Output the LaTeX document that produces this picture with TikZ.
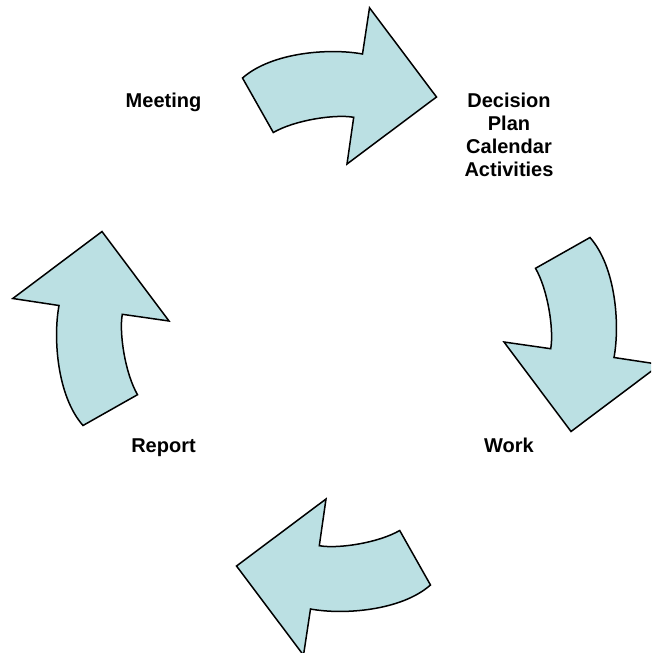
\documentclass[tikz,border=0pt]{standalone}
\usepackage{fontspec}
\setmainfont{Liberation Sans}
\usetikzlibrary{positioning}
\definecolor{cyclefill}{RGB}{187,224,227}
\tikzset{
  cyclearrow/.style={draw=black, line width=1.5pt, fill=cyclefill},
  stage/.style={font=\fontsize{20}{23}\selectfont\bfseries, align=center, inner sep=0pt, anchor=base},
}

\begin{document}
\begin{tikzpicture}[x=1pt, y=-1pt]
  \useasboundingbox (0,0) rectangle (651,653);
  \clip (0,0) rectangle (651,653);
  \coordinate (hub) at (336.5,331.5);
  % bent arrows round the hub, each a quarter turn on
  \foreach \ang in {0,-90,-180,-270}
    \draw[cyclearrow, shift={(hub)}, rotate=\ang] (-94,-253.5)
      .. controls (-64.5,-279.5) and (-6.5,-283.5) .. (26,-277.5)
      -- (33,-323.7) -- (100,-234.5) -- (10.5,-167.5) -- (17.2,-214.2)
      .. controls (-1.5,-217.5) and (-41.5,-211.5) .. (-63.2,-199) -- cycle;
  % stages (base sits on the last line)
  \node[stage] (meeting) at (163.5,107.5) {Meeting};
  \node[stage] (decision) at (509,176.5) {Decision\\Plan\\Calendar\\Activities};
  \node[stage] (work) at (509,452.5) {Work};
  \node[stage] (report) at (163.5,452.5) {Report};
\end{tikzpicture}
\end{document}
